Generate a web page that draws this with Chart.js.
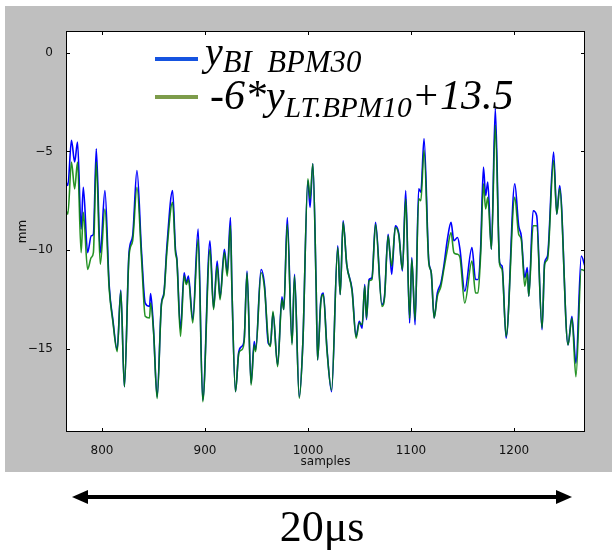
<!DOCTYPE html>
<html>
<head>
<meta charset="utf-8">
<script src="https://cdn.jsdelivr.net/npm/chart.js@4/dist/chart.umd.min.js"></script>
<style>
    body { margin: 0; width: 616px; height: 555px; background: #fff; position: relative; overflow: hidden; }
    #figure { position: absolute; left: 5px; top: 6px; width: 607px; height: 466px; background: #bfbfbf; }
    .swatch { position: absolute; width: 43px; height: 4px; }
    .legend-text { position: absolute; font-family: "Liberation Serif", serif; font-style: italic; color: #000; white-space: pre; line-height: 1; }
    .legend-text sub { font-size: 0.7em; vertical-align: -0.28em; }
    .legend-text sub.wide { font-size: 0.77em; vertical-align: -0.24em; }
    #span-label { position: absolute; left: 0; width: 644px; top: 505px; text-align: center; font-family: "Liberation Serif", serif; font-size: 44px; line-height: 1; color: #000; }
</style>
</head>
<body>
<div id="figure"><canvas id="chart" width="607" height="466"></canvas></div>

<div class="swatch" style="left:155px; top:57px; background:#1553e0;"></div>
<div class="legend-text" style="left:205px; top:32px; font-size:40px;">y<sub class="wide">BI  BPM30</sub></div>
<div class="swatch" style="left:155px; top:95px; background:#7d9c4b;"></div>
<div class="legend-text" style="left:210px; top:74px; font-size:42px;">-6*y<sub>LT.BPM10</sub>+13.5</div>

<svg style="position:absolute; left:0; top:0;" width="616" height="555">
    <line x1="84" y1="497" x2="560" y2="497" stroke="#000" stroke-width="4"></line>
    <polygon points="72,497 88,490 88,504" fill="#000"></polygon>
    <polygon points="572,497 556,490 556,504" fill="#000"></polygon>
</svg>
<div id="span-label">20μs</div>

<script>
// sample numbers where the traces turn
const samples = [
    765.1, 766.8, 770.3, 773.4, 776.2, 779.7, 781.8, 786.0, 789.5, 791.6,
    794.4, 798.3, 802.8, 807.0, 810.5, 814.7, 818.2, 821.7, 826.2, 829.7,
    833.9, 838.4, 841.9, 846.1, 847.2, 850.0, 853.5, 857.7, 860.1, 862.9,
    868.5, 871.3, 872.7, 876.2, 879.7, 881.8, 883.9, 888.1, 893.3, 897.8,
    904.8, 908.3, 911.8, 914.6, 918.8, 921.6, 924.7, 926.1, 929.6, 932.8,
    935.6, 938.0, 940.8, 944.7, 947.8, 949.2, 954.4, 957.9, 961.4, 963.5,
    966.0, 970.5, 974.7, 976.5, 979.9, 984.5, 986.9, 991.5, 995.0, 999.9,
    1002.0, 1004.7, 1007.9, 1009.3, 1012.4, 1014.9, 1018.4, 1022.9, 1028.9, 1031.3,
    1034.1, 1037.6, 1042.8, 1046.7, 1049.8, 1052.6, 1055.1, 1056.8, 1059.3, 1062.1,
    1065.6, 1071.8, 1074.3, 1077.8, 1079.5, 1081.3, 1084.8, 1088.3, 1091.7, 1094.9,
    1098.7, 1100.8, 1104.0, 1107.5, 1109.6, 1112.7, 1117.3, 1119.7, 1122.5, 1125.6,
    1129.1, 1131.9, 1135.4, 1138.9, 1141.7, 1145.2, 1147.6, 1152.2, 1159.2, 1162.7,
    1165.1, 1167.6, 1170.4, 1172.5, 1174.6, 1178.1, 1181.9, 1186.1, 1188.5, 1192.4,
    1200.8, 1204.6, 1207.1, 1210.5, 1213.0, 1214.4, 1218.6, 1222.1, 1227.3, 1229.8,
    1232.6, 1238.5, 1241.6, 1244.4, 1252.5, 1256.3, 1260.2, 1265.4, 1268.9,
];

// y_BI BPM30 (blue), mm
const bpm30Values = [
    -6.55, -6.72, -4.43, -5.53, -4.52, -8.93, -6.81, -10.12, -9.27, -9.19,
    -4.86, -10.12, -6.98, -11.82, -13.51, -15.04, -12.02, -16.91, -10.12, -9.27,
    -5.96, -10.12, -12.67, -12.84, -12.19, -14.02, -17.42, -12.67, -12.16, -9.86,
    -6.98, -9.95, -10.46, -14.02, -11.14, -11.65, -11.31, -13.51, -8.93, -17.59,
    -9.52, -12.92, -10.54, -12.41, -9.95, -11.14, -8.34, -11.82, -17.16, -15.13,
    -14.87, -14.53, -11.05, -16.74, -14.62, -15.04, -10.97, -11.82, -14.70, -14.79,
    -13.17, -15.81, -12.36, -13.00, -8.34, -14.70, -11.22, -17.42, -14.70, -6.47,
    -7.83, -5.62, -11.82, -15.55, -12.58, -12.16, -14.96, -17.16, -9.78, -12.24,
    -8.51, -10.71, -11.99, -14.36, -13.60, -13.94, -11.73, -13.51, -11.48, -11.39,
    -8.59, -12.75, -12.33, -9.19, -10.12, -11.22, -8.76, -9.19, -11.05, -6.98,
    -13.68, -10.37, -13.77, -6.89, -7.06, -4.35, -10.54, -11.14, -13.43, -12.16,
    -11.65, -10.80, -9.44, -8.59, -9.52, -9.35, -9.95, -12.07, -9.86, -11.48,
    -11.48, -9.95, -5.79, -7.23, -6.55, -9.95, -2.82, -10.63, -10.80, -14.45,
    -6.64, -8.76, -9.27, -11.39, -10.88, -12.33, -8.00, -8.25, -14.02, -10.63,
    -10.29, -5.03, -8.17, -6.72, -14.79, -13.34, -15.72, -10.29, -10.80,
];

// -6*y_LT.BPM10 + 13.5 (green), mm
const ltBpm10Values = [
    -8.00, -8.17, -5.53, -6.89, -5.53, -10.12, -8.08, -10.97, -10.37, -10.12,
    -5.53, -10.71, -7.91, -11.99, -13.60, -15.13, -12.07, -16.91, -10.29, -9.52,
    -6.81, -10.46, -13.34, -13.43, -12.67, -14.11, -17.50, -12.75, -12.24, -10.12,
    -7.57, -10.12, -10.54, -14.36, -11.31, -11.73, -11.48, -13.68, -9.44, -17.67,
    -9.95, -13.00, -10.80, -12.50, -10.12, -11.31, -8.76, -11.90, -17.16, -15.21,
    -15.04, -14.62, -11.14, -16.83, -14.79, -15.13, -11.14, -11.99, -14.53, -14.87,
    -13.09, -15.89, -12.50, -13.00, -8.68, -14.79, -11.31, -17.50, -14.70, -6.38,
    -7.40, -5.62, -11.82, -15.55, -12.67, -12.24, -15.04, -17.08, -9.86, -12.24,
    -8.59, -10.71, -12.07, -14.45, -13.68, -13.77, -11.82, -13.43, -11.56, -11.48,
    -8.68, -12.84, -12.41, -9.27, -10.12, -10.80, -8.85, -9.27, -10.97, -7.40,
    -13.43, -10.46, -13.51, -7.40, -7.49, -4.94, -10.63, -11.14, -13.43, -12.33,
    -11.82, -10.97, -9.95, -9.10, -10.12, -10.20, -10.37, -12.67, -10.54, -12.16,
    -12.16, -10.29, -6.64, -7.91, -7.32, -9.95, -3.67, -10.71, -10.97, -14.36,
    -7.32, -9.19, -9.44, -11.82, -11.14, -12.33, -8.76, -8.76, -13.94, -10.71,
    -10.46, -5.45, -8.17, -6.89, -14.79, -13.43, -16.40, -10.97, -11.05,
];

const xTicks = [800, 900, 1000, 1100, 1200];
const yTicks = [-15, -10, -5, 0];

function points(values) {
    return samples.map((x, i) => ({ x, y: values[i] }));
}

function lineDataset(label, values, color, order) {
    return {
        label,
        data: points(values),
        order,
        borderColor: color,
        borderWidth: 1.6,
        pointRadius: 0,
        cubicInterpolationMode: "monotone",
        fill: false,
    };
}

// white axes face, black frame and inward ticks on all four sides
const axesFrame = {
    id: "axesFrame",
    beforeDatasetsDraw(chart) {
        const { ctx, chartArea: a } = chart;
        ctx.save();
        ctx.fillStyle = "#fff";
        ctx.fillRect(a.left, a.top, a.width, a.height);
        ctx.restore();
    },
    afterDraw(chart) {
        const { ctx, chartArea: a, scales } = chart;
        ctx.save();
        ctx.strokeStyle = "#000";
        ctx.lineWidth = 1;
        ctx.strokeRect(a.left + 0.5, a.top + 0.5, a.width - 1, a.height - 1);
        ctx.beginPath();
        xTicks.forEach((v) => {
            const px = Math.round(scales.x.getPixelForValue(v)) + 0.5;
            ctx.moveTo(px, a.bottom);
            ctx.lineTo(px, a.bottom - 4);
            ctx.moveTo(px, a.top);
            ctx.lineTo(px, a.top + 4);
        });
        yTicks.forEach((v) => {
            const py = Math.round(scales.y.getPixelForValue(v)) + 0.5;
            ctx.moveTo(a.left, py);
            ctx.lineTo(a.left + 4, py);
            ctx.moveTo(a.right, py);
            ctx.lineTo(a.right - 4, py);
        });
        ctx.stroke();
        ctx.restore();
    },
};

const tickFont = { family: "DejaVu Sans", size: 12 };
const titleFont = { family: "DejaVu Sans", size: 12 };

new Chart(document.getElementById("chart"), {
    type: "line",
    data: {
        datasets: [
            // green drawn over blue, as in the original figure
            lineDataset("-6*y_LT.BPM10+13.5", ltBpm10Values, "rgba(0,128,0,0.85)", 0),
            lineDataset("y_BI BPM30", bpm30Values, "#0000ff", 1),
        ],
    },
    options: {
        responsive: false,
        animation: false,
        layout: { padding: { top: 25, right: 27, left: 0, bottom: 0 } },
        plugins: { legend: { display: false }, tooltip: { enabled: false } },
        scales: {
            x: {
                type: "linear",
                min: 765,
                max: 1269,
                afterBuildTicks: (scale) => { scale.ticks = xTicks.map((value) => ({ value })); },
                afterFit: (scale) => { scale.height = 40; },
                ticks: { color: "#111", font: tickFont, padding: 4, maxRotation: 0, callback: (value) => String(value) },
                grid: { display: false },
                border: { display: false },
                title: { display: true, text: "samples", color: "#111", font: titleFont, padding: { top: 0, bottom: 3 } },
            },
            y: {
                min: -19.2,
                max: 1.1,
                afterBuildTicks: (scale) => { scale.ticks = yTicks.map((value) => ({ value })); },
                afterFit: (scale) => { scale.width = 61; },
                ticks: {
                    color: "#111",
                    font: tickFont,
                    padding: 5,
                    callback: (value) => String(value).replace("-", "\u2212"),
                },
                grid: { display: false },
                border: { display: false },
                title: { display: true, text: "mm", color: "#111", font: titleFont, padding: { top: 11, bottom: 0 } },
            },
        },
    },
    plugins: [axesFrame],
});
</script>
</body>
</html>
